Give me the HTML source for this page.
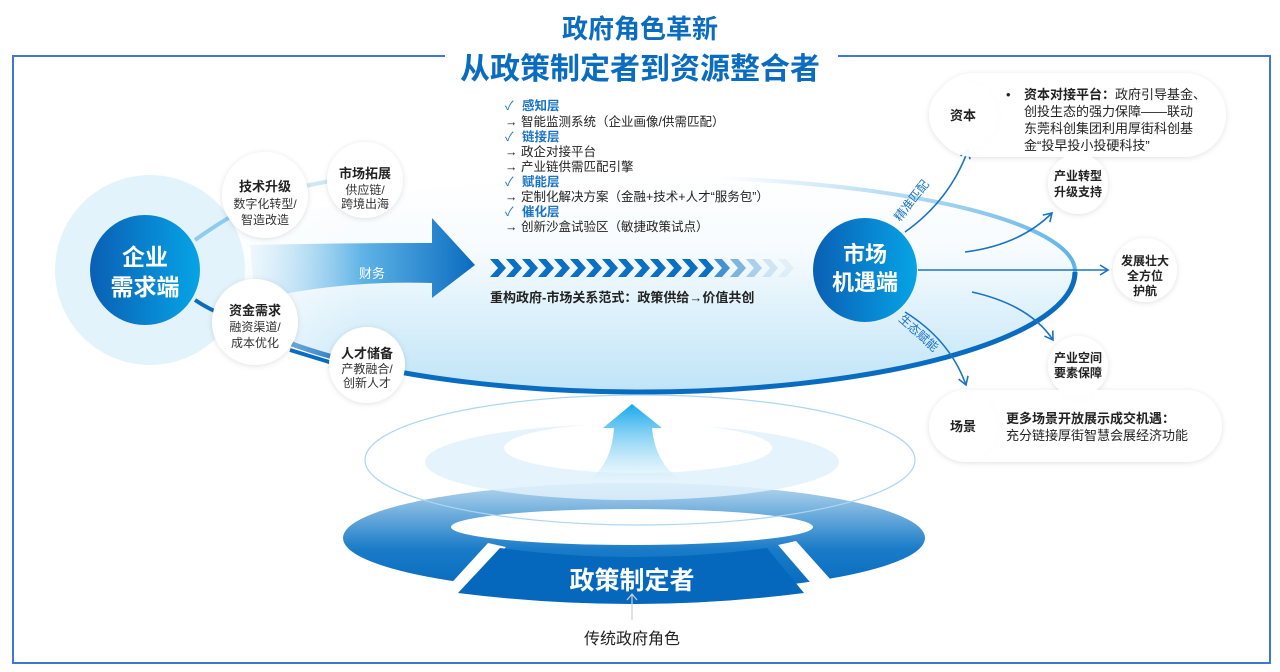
<!DOCTYPE html>
<html><head><meta charset="utf-8"><style>
html,body{margin:0;padding:0;background:#fff;}
svg{display:block;font-family:"Liberation Sans","Noto Sans CJK SC",sans-serif;}
</style></head><body>
<svg width="1280" height="672" viewBox="0 0 1280 672" xmlns="http://www.w3.org/2000/svg">
<defs>
<linearGradient id="ellG" x1="0" y1="0" x2="0" y2="1">
<stop offset="0" stop-color="#ffffff"/><stop offset="0.35" stop-color="#f6fbfe"/><stop offset="1" stop-color="#bfe4f7"/>
</linearGradient>
<linearGradient id="ellFade" x1="0" y1="0" x2="1" y2="0">
<stop offset="0" stop-color="#fff" stop-opacity="1"/><stop offset="1" stop-color="#fff" stop-opacity="0"/>
</linearGradient>
<linearGradient id="topStroke" gradientUnits="userSpaceOnUse" x1="720" y1="0" x2="1075" y2="0">
<stop offset="0" stop-color="#8ccbef" stop-opacity="0"/><stop offset="0.6" stop-color="#8ccbef" stop-opacity="0.8"/><stop offset="1" stop-color="#5fb3e6"/>
</linearGradient>
<linearGradient id="circ" x1="0" y1="0" x2="1" y2="0">
<stop offset="0" stop-color="#0a5fb4"/><stop offset="1" stop-color="#06a4e6"/>
</linearGradient>
<linearGradient id="band" x1="0" y1="0" x2="1" y2="0">
<stop offset="0" stop-color="#cfe9f8" stop-opacity="0.3"/><stop offset="0.5" stop-color="#5fb3e6"/><stop offset="1" stop-color="#0a6cc0"/>
</linearGradient>
<linearGradient id="ring" x1="0" y1="0" x2="0" y2="1">
<stop offset="0" stop-color="#b8d8ee"/><stop offset="0.6" stop-color="#1a7cc8"/><stop offset="1" stop-color="#0568bd"/>
</linearGradient>
<linearGradient id="up" x1="0" y1="0" x2="0" y2="1">
<stop offset="0" stop-color="#16a8ea"/><stop offset="1" stop-color="#e2f3fc" stop-opacity="0.5"/>
</linearGradient>
<filter id="sh" x="-30%" y="-30%" width="160%" height="160%"><feDropShadow dx="0" dy="1" stdDeviation="3" flood-color="#000" flood-opacity="0.12"/></filter>
<marker id="ah" markerWidth="12" markerHeight="12" refX="9" refY="6" orient="auto" markerUnits="userSpaceOnUse"><path d="M1,1 L9,6 L1,11" fill="none" stroke="#1a73c6" stroke-width="1.6"/></marker>
</defs>

<path d="M445,56 H13 V663 H1270 V56 H838" fill="none" stroke="#3d78d8" stroke-width="2"/>
<text x="640" y="38" text-anchor="middle" font-size="26" font-weight="bold" fill="#0a6cc0">政府角色革新</text>
<text x="640" y="79" text-anchor="middle" font-size="30" font-weight="bold" fill="#0a6cc0">从政策制定者到资源整合者</text>

<path d="M205,272 A435,95 0 0 1 1075,272 A435,120 0 0 1 205,272 Z" fill="url(#ellG)"/>
<path d="M205,272 A435,120 0 0 0 1075,272" fill="none" stroke="#0a6cc0" stroke-width="5"/>
<path d="M720,178 A435,95 0 0 1 1075,272" fill="none" stroke="url(#topStroke)" stroke-width="4"/>
<rect x="190" y="140" width="170" height="260" fill="url(#ellFade)"/>

<circle cx="150" cy="270" r="95" fill="#e3f3fb"/>
<path d="M195,240 Q230,215 262,200" stroke="#8fcbee" stroke-width="4" fill="none"/>
<path d="M195,300 Q225,320 256,322" stroke="#0a6cc0" stroke-width="4" fill="none"/>
<path d="M300,187 L335,180" stroke="#cfe8f7" stroke-width="4"/>
<path d="M290,350 Q330,362 370,375" stroke="#0a6cc0" stroke-width="4" fill="none"/>
<circle cx="145" cy="270" r="55" fill="url(#circ)"/>
<text x="145" y="265" text-anchor="middle" font-size="23" font-weight="bold" fill="#fff">企业</text>
<text x="145" y="295" text-anchor="middle" font-size="23" font-weight="bold" fill="#fff">需求端</text>

<path d="M250,245 Q350,243 432,243 L432,218 L475,265 L432,298 L432,283 Q340,280 255,300 Z" fill="url(#band)"/>
<text x="372" y="278" text-anchor="middle" font-size="13" fill="#fff">财务</text>

<g filter="url(#sh)">
<circle cx="265" cy="195" r="43" fill="#fff"/>
<circle cx="365" cy="180" r="38" fill="#fff"/>
<circle cx="255" cy="322" r="43" fill="#fff"/>
<circle cx="367" cy="365" r="38" fill="#fff"/>
</g>
<g text-anchor="middle" font-size="12" fill="#333">
<text x="265" y="191" font-weight="bold" font-size="13" fill="#222">技术升级</text><text x="265" y="208">数字化转型/</text><text x="265" y="224">智造改造</text>
<text x="365" y="178" font-weight="bold" font-size="13" fill="#222">市场拓展</text><text x="365" y="194">供应链/</text><text x="365" y="208">跨境出海</text>
<text x="255" y="315" font-weight="bold" font-size="13" fill="#222">资金需求</text><text x="255" y="331">融资渠道/</text><text x="255" y="347">成本优化</text>
<text x="367" y="358" font-weight="bold" font-size="13" fill="#222">人才储备</text><text x="367" y="373">产教融合/</text><text x="367" y="387">创新人才</text>
</g>

<g font-size="12.5" fill="#222">
<text x="505" y="110" fill="#1a73c6"><tspan>✓</tspan><tspan x="522" font-weight="bold">感知层</tspan></text>
<text x="505" y="126">→ 智能监测系统（企业画像/供需匹配）</text>
<text x="505" y="141" fill="#1a73c6"><tspan>✓</tspan><tspan x="522" font-weight="bold">链接层</tspan></text>
<text x="505" y="156">→ 政企对接平台</text>
<text x="505" y="171">→ 产业链供需匹配引擎</text>
<text x="505" y="186" fill="#1a73c6"><tspan>✓</tspan><tspan x="522" font-weight="bold">赋能层</tspan></text>
<text x="505" y="201">→ 定制化解决方案（金融+技术+人才“服务包”）</text>
<text x="505" y="216" fill="#1a73c6"><tspan>✓</tspan><tspan x="522" font-weight="bold">催化层</tspan></text>
<text x="505" y="231">→ 创新沙盒试验区（敏捷政策试点）</text>
</g>
<g fill="#0b6fc2">
<path d="M490,259h8l8,9l-8,9h-8l8,-9z"/><path d="M506,259h8l8,9l-8,9h-8l8,-9z"/><path d="M522,259h8l8,9l-8,9h-8l8,-9z"/><path d="M538,259h8l8,9l-8,9h-8l8,-9z"/><path d="M554,259h8l8,9l-8,9h-8l8,-9z"/><path d="M570,259h8l8,9l-8,9h-8l8,-9z"/><path d="M586,259h8l8,9l-8,9h-8l8,-9z"/><path d="M602,259h8l8,9l-8,9h-8l8,-9z"/><path d="M618,259h8l8,9l-8,9h-8l8,-9z"/><path d="M634,259h8l8,9l-8,9h-8l8,-9z"/><path d="M650,259h8l8,9l-8,9h-8l8,-9z"/><path d="M666,259h8l8,9l-8,9h-8l8,-9z"/><path d="M682,259h8l8,9l-8,9h-8l8,-9z"/><path d="M698,259h8l8,9l-8,9h-8l8,-9z"/>
<path d="M714,259h8l8,9l-8,9h-8l8,-9z" opacity="0.75"/><path d="M730,259h8l8,9l-8,9h-8l8,-9z" opacity="0.5"/><path d="M746,259h8l8,9l-8,9h-8l8,-9z" opacity="0.3"/><path d="M762,259h8l8,9l-8,9h-8l8,-9z" opacity="0.15"/><path d="M778,259h8l8,9l-8,9h-8l8,-9z" opacity="0.07"/>
</g>
<text x="490" y="302" font-size="13" font-weight="bold" fill="#222">重构政府-市场关系范式：政策供给→价值共创</text>

<g fill="none" stroke="#1a73c6" stroke-width="1.6" marker-end="url(#ah)">
<path d="M905,232 Q950,200 968,150"/>
<path d="M965,252 Q1020,245 1052,213"/>
<path d="M918,270 L1108,270"/>
<path d="M972,292 Q1030,305 1053,340"/>
<path d="M905,312 Q950,340 966,385"/>
</g>
<text transform="translate(900,222) rotate(-52)" font-size="12" fill="#1a73c6">精准匹配</text>
<text transform="translate(898,320) rotate(42)" font-size="12" fill="#1a73c6">生态赋能</text>

<circle cx="865" cy="270" r="52" fill="url(#circ)"/>
<text x="865" y="262" text-anchor="middle" font-size="22" font-weight="bold" fill="#fff">市场</text>
<text x="865" y="290" text-anchor="middle" font-size="22" font-weight="bold" fill="#fff">机遇端</text>

<g filter="url(#sh)">
<rect x="932" y="73" width="294" height="84" rx="42" fill="#fff" opacity="0.95"/>
<circle cx="963" cy="115" r="34" fill="#fff"/>
<circle cx="1078" cy="184" r="30" fill="#fff"/>
<circle cx="1145" cy="270" r="32" fill="#fff"/>
<circle cx="1078" cy="366" r="30" fill="#fff"/>
<rect x="930" y="390" width="292" height="72" rx="36" fill="#fff" opacity="0.95"/>
<circle cx="963" cy="426" r="34" fill="#fff"/>
</g>
<g font-size="13" fill="#222">
<text x="963" y="120" text-anchor="middle" font-weight="bold">资本</text>
<text x="1006" y="99">•</text>
<text x="1024" y="99"><tspan font-weight="bold">资本对接平台：</tspan>政府引导基金、</text>
<text x="1024" y="116">创投生态的强力保障——联动</text>
<text x="1024" y="133">东莞科创集团利用厚街科创基</text>
<text x="1024" y="150">金“投早投小投硬科技”</text>
<text x="1078" y="180" text-anchor="middle" font-weight="bold" font-size="12">产业转型</text>
<text x="1078" y="196" text-anchor="middle" font-weight="bold" font-size="12">升级支持</text>
<text x="1145" y="265" text-anchor="middle" font-weight="bold" font-size="12">发展壮大</text>
<text x="1145" y="280" text-anchor="middle" font-weight="bold" font-size="12">全方位</text>
<text x="1145" y="295" text-anchor="middle" font-weight="bold" font-size="12">护航</text>
<text x="1078" y="362" text-anchor="middle" font-weight="bold" font-size="12">产业空间</text>
<text x="1078" y="377" text-anchor="middle" font-weight="bold" font-size="12">要素保障</text>
<text x="963" y="431" text-anchor="middle" font-weight="bold">场景</text>
<text x="1006" y="423" font-weight="bold">更多场景开放展示成交机遇：</text>
<text x="1006" y="440">充分链接厚街智慧会展经济功能</text>
</g>

<ellipse cx="634" cy="538" rx="291" ry="55" fill="url(#ring)"/>
<ellipse cx="632" cy="527" rx="181" ry="18" fill="#fff"/>
<path d="M488,543 L445,590 L462,596 L506,547 Z" fill="#fff"/>
<path d="M778,545 L822,596 L840,590 L796,541 Z" fill="#fff"/>
<path d="M500,548 Q632,566 767,548 L804,593 Q632,615 458,593 Z" fill="#0568bd"/>
<text x="632" y="589" text-anchor="middle" font-size="25" font-weight="bold" fill="#fff">政策制定者</text>
<path d="M632,620 V594 M627,600 L632,594 L637,600" stroke="#cfcfcf" stroke-width="1.2" fill="none"/>
<text x="632" y="644" text-anchor="middle" font-size="16" fill="#222">传统政府角色</text>

<ellipse cx="640" cy="460" rx="275" ry="65" fill="none" stroke="#aad6f3" stroke-width="1.2"/>
<ellipse cx="632" cy="462" rx="207" ry="38" fill="#e0f1fb" opacity="0.85"/>
<ellipse cx="638" cy="448" rx="134" ry="25" fill="#fff"/>
<path d="M632,404 L662,428 L652,428 Q655,462 680,480 L590,480 Q612,462 614,428 L603,428 Z" fill="url(#up)"/>
</svg>
</body></html>
